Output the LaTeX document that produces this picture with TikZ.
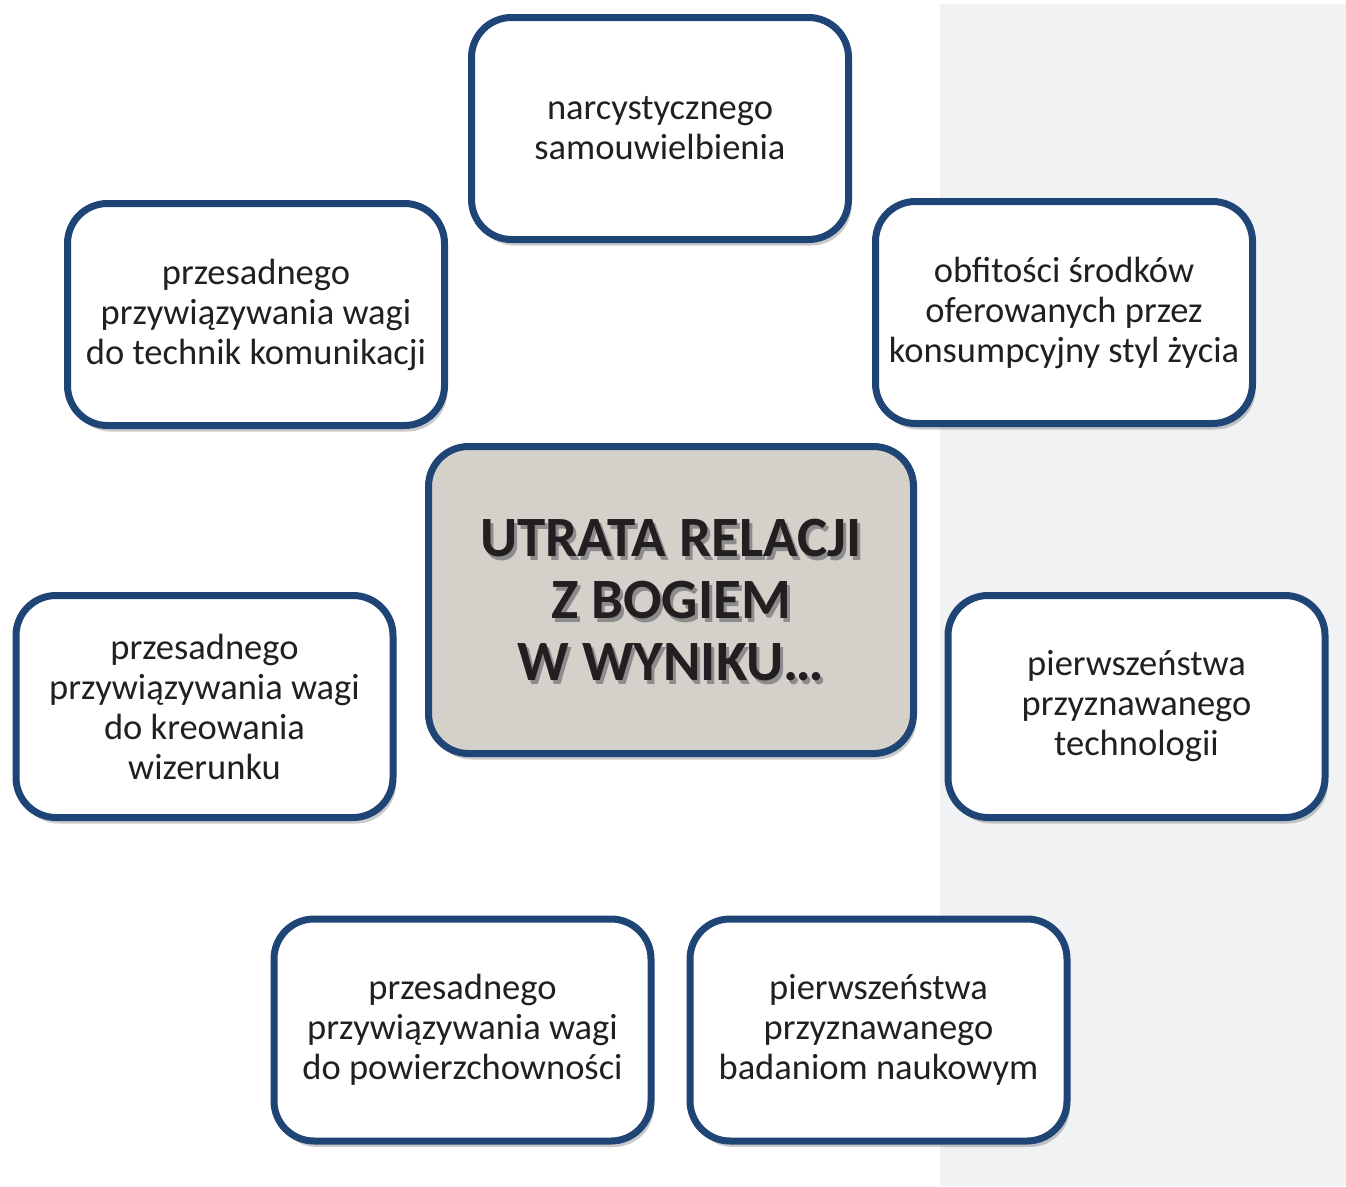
\documentclass[tikz,border=0pt]{standalone}
\usepackage{fontspec}
\setmainfont{Carlito}
\usepackage{xcolor}
\definecolor{frameblue}{RGB}{31,68,118}
\definecolor{panelgray}{RGB}{241,242,244}
\definecolor{coregray}{RGB}{212,209,203}
\definecolor{inkblack}{RGB}{35,31,32}
\usetikzlibrary{shadows}
\tikzset{
  factorbox/.style={draw=frameblue,line width=7pt,fill=white,rounded corners=40pt,
        minimum width=377pt,minimum height=222pt,align=center,text=inkblack,
        font=\fontsize{36.5}{40}\selectfont,
        drop shadow={shadow xshift=3pt,shadow yshift=-6pt,opacity=0.35,fill=black!60}},
  corebox/.style={factorbox,fill=coregray,minimum width=485pt,minimum height=307pt},
  coretext/.style={align=center,font=\fontsize{57}{62}\selectfont\bfseries},
}
\begin{document}
\begin{tikzpicture}[x=1pt,y=-1pt]
  \useasboundingbox (0,0) rectangle (1346,1186);
  \fill[panelgray] (940,4) rectangle (1346,1186);

  \node[factorbox] (narcyzm) at (660,128.5)
        {narcystycznego\\samouwielbienia};
  \node[factorbox] (komunikacja) at (256,314.5)
        {przesadnego\\przywiązywania wagi\\do technik komunikacji};
  \node[factorbox] (konsumpcja) at (1064,312.5)
        {obfitości środków\\oferowanych przez\\konsumpcyjny styl życia};
  \node[corebox] (utrata) at (671,600) {};
  \node[coretext,text=black!45] (utratacien) at (674,604)
        {UTRATA RELACJI\\Z BOGIEM\\W WYNIKU…};
  \node[coretext,text=inkblack] (utratatekst) at (utrata)
        {UTRATA RELACJI\\Z BOGIEM\\W WYNIKU…};
  \node[factorbox] (wizerunek) at (204.5,706.5)
        {przesadnego\\przywiązywania wagi\\do kreowania\\wizerunku};
  \node[factorbox] (technologia) at (1136.5,706.5)
        {pierwszeństwa\\przyznawanego\\technologii};
  \node[factorbox] (powierzchownosc) at (462.5,1030)
        {przesadnego\\przywiązywania wagi\\do powierzchowności};
  \node[factorbox] (nauka) at (878.5,1030)
        {pierwszeństwa\\przyznawanego\\badaniom naukowym};
\end{tikzpicture}
\end{document}
